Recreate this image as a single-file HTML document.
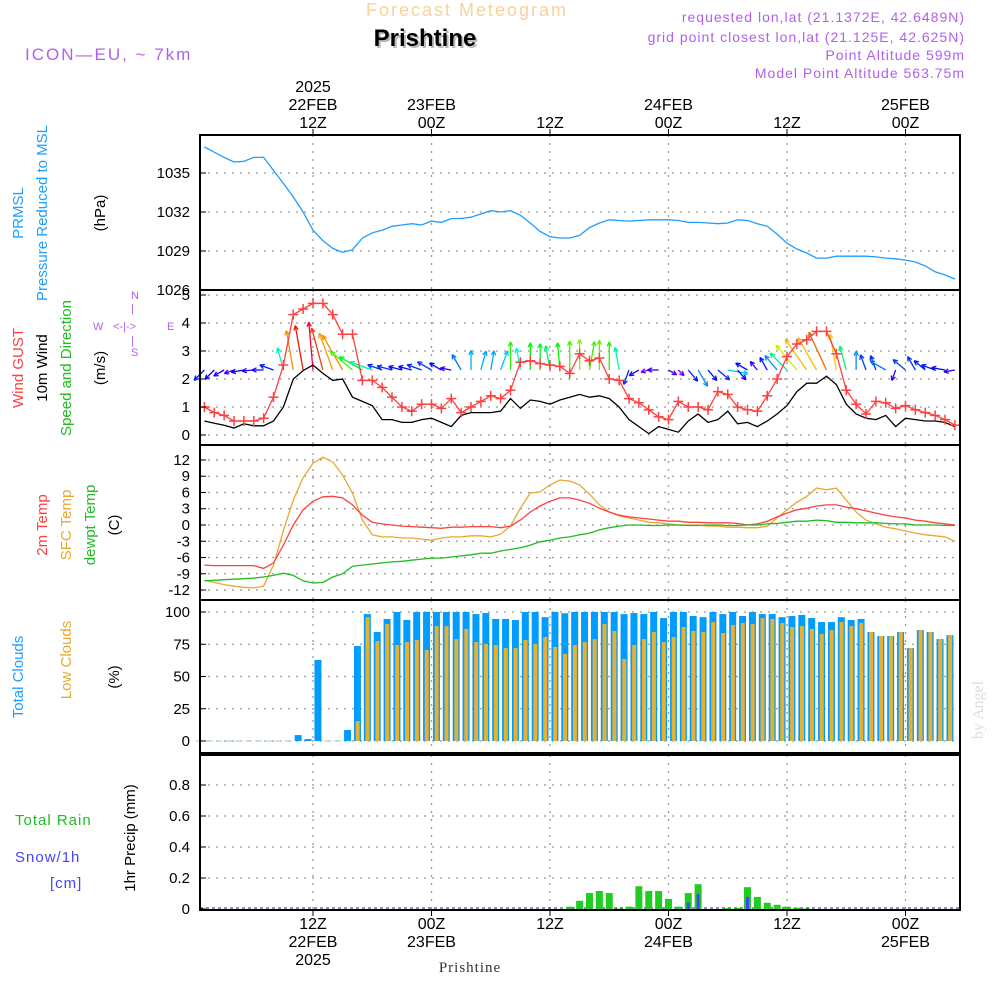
<!DOCTYPE html>
<html><head><meta charset="utf-8">
<style>
html,body{margin:0;padding:0;background:#fff;}
svg{display:block;font-family:"Liberation Sans",sans-serif;}
</style></head>
<body>
<svg id="chart" width="1000" height="1000" viewBox="0 0 1000 1000" xmlns="http://www.w3.org/2000/svg">
  <text x="467" y="16" text-anchor="middle" font-size="18" fill="#f6d29e" letter-spacing="2">Forecast Meteogram</text>
  <text x="427" y="48" text-anchor="middle" font-size="24" font-weight="bold" fill="#bbb">Prishtine</text>
  <text x="425" y="46" text-anchor="middle" font-size="24" font-weight="bold" fill="#000">Prishtine</text>
  <g font-size="14" fill="#b060ee" text-anchor="end" letter-spacing="1">
    <text x="965" y="22">requested lon,lat (21.1372E, 42.6489N)</text>
    <text x="965" y="42">grid point closest lon,lat (21.125E, 42.625N)</text>
    <text x="965" y="60">Point Altitude 599m</text>
    <text x="965" y="78">Model Point Altitude 563.75m</text>
  </g>
  <text x="25" y="60" font-size="17" fill="#b060ee" letter-spacing="2">ICON—EU, ~ 7km</text>

  <g id="grid"></g>
  <g id="marks"></g>
  <g id="frames"></g>
  <g id="ticks" font-size="15" fill="#000"></g>

  <!-- left labels -->
  <g font-size="15">
    <text transform="translate(23,213) rotate(-90)" text-anchor="middle" fill="#1e9eff">PRMSL</text>
    <text transform="translate(47,213) rotate(-90)" text-anchor="middle" fill="#1e9eff">Pressure Reduced to MSL</text>
    <text transform="translate(105,213) rotate(-90)" text-anchor="middle" fill="#000">(hPa)</text>
    <text transform="translate(23,368) rotate(-90)" text-anchor="middle" fill="#ff4040">Wind GUST</text>
    <text transform="translate(47,368) rotate(-90)" text-anchor="middle" fill="#000">10m Wind</text>
    <text transform="translate(71,368) rotate(-90)" text-anchor="middle" fill="#22bb22">Speed and Direction</text>
    <text transform="translate(105,368) rotate(-90)" text-anchor="middle" fill="#000">(m/s)</text>
    <text transform="translate(47,525) rotate(-90)" text-anchor="middle" fill="#ff4040">2m Temp</text>
    <text transform="translate(71,525) rotate(-90)" text-anchor="middle" fill="#e8a830">SFC Temp</text>
    <text transform="translate(95,525) rotate(-90)" text-anchor="middle" fill="#22bb22">dewpt Temp</text>
    <text transform="translate(119,525) rotate(-90)" text-anchor="middle" fill="#000">(C)</text>
    <text transform="translate(23,677) rotate(-90)" text-anchor="middle" fill="#1e9eff">Total Clouds</text>
    <text transform="translate(71,660) rotate(-90)" text-anchor="middle" fill="#e8a830">Low Clouds</text>
    <text transform="translate(119,677) rotate(-90)" text-anchor="middle" fill="#000">(%)</text>
    <text x="15" y="825" fill="#22bb22" letter-spacing="1">Total  Rain</text>
    <text x="15" y="862" fill="#4444ff" letter-spacing="1">Snow/1h</text>
    <text x="50" y="888" fill="#4444ff" letter-spacing="1">[cm]</text>
    <text transform="translate(135,838) rotate(-90)" text-anchor="middle" fill="#000">1hr Precip (mm)</text>
  </g>
  <g font-size="11" fill="#b060ee">
    <text x="131" y="299">N</text>
    <text x="131" y="312">|</text>
    <text x="93" y="330">W</text>
    <text x="113" y="330">&lt;-|-&gt;</text>
    <text x="167" y="330">E</text>
    <text x="131" y="344">|</text>
    <text x="131" y="356">S</text>
  </g>
  <text transform="translate(983,710) rotate(-90)" font-family="Liberation Serif, serif" font-size="16" fill="#ddd" text-anchor="middle">by Angel</text>
  <text x="470" y="972" text-anchor="middle" font-family="Liberation Serif, serif" font-size="15" fill="#333" letter-spacing="1">Prishtine</text>
</svg>
<script>
const pressure=[1037.0,1036.6,1036.2,1035.85,1035.9,1036.2,1036.2,1035.2,1034.2,1033.15,
1032,1030.6,1029.8,1029.2,1028.9,1029.1,1030,1030.4,1030.6,1030.9,
1031,1031.1,1031,1031.3,1031.2,1031.5,1031.5,1031.6,1031.85,1032.1,
1032,1032.1,1031.75,1031.15,1030.5,1030.1,1030,1030,1030.2,1030.8,
1031.15,1031.4,1031.35,1031.3,1031.35,1031.4,1031.4,1031.4,1031.35,1031.2,
1031.2,1031.15,1031.1,1031.15,1031.4,1031.35,1031.1,1030.9,1030.3,1029.6,
1029.15,1028.85,1028.45,1028.45,1028.6,1028.6,1028.6,1028.6,1028.55,1028.45,
1028.4,1028.3,1028.15,1027.85,1027.4,1027.15,1026.85];
const gust=[1.0,0.8,0.7,0.5,0.5,0.5,0.6,1.35,2.5,4.3,
4.5,4.7,4.7,4.3,3.6,3.6,1.95,1.95,1.7,1.35,
1.0,0.85,1.1,1.1,0.95,1.3,0.8,1.0,1.2,1.4,
1.3,1.6,2.6,2.65,2.55,2.5,2.45,2.2,2.9,2.65,
2.75,2.0,1.95,1.3,1.15,0.9,0.65,0.55,1.2,1.0,
1.0,0.9,1.55,1.45,1.0,0.9,0.85,1.4,2.0,2.8,
3.25,3.4,3.7,3.7,2.9,1.6,1.1,0.75,1.2,1.15,
0.95,1.05,0.9,0.8,0.7,0.55,0.35];
const windSpeed=[0.5,0.42,0.35,0.25,0.4,0.33,0.33,0.5,1.0,2.0,
2.3,2.5,2.2,1.95,2.0,1.35,1.2,1.05,0.55,0.55,
0.45,0.45,0.55,0.6,0.45,0.3,0.7,0.8,0.8,0.8,
0.85,1.3,0.95,1.25,1.2,1.1,1.25,1.35,1.45,1.35,
1.4,1.3,1.0,0.55,0.3,0.05,0.3,0.2,0.1,0.5,
0.75,0.45,0.55,0.85,0.4,0.45,0.3,0.5,0.75,1.05,
1.55,1.85,1.85,2.1,1.8,1.1,0.75,0.6,0.55,0.7,
0.3,0.6,0.55,0.5,0.5,0.45,0.3];
const windDir=[225,225,240,250,260,265,270,290,345,350,
350,355,345,340,330,310,300,290,290,285,
285,285,290,300,300,280,330,0,15,10,
20,0,350,0,0,350,355,0,0,10,
0,0,350,200,240,255,270,120,135,140,
150,140,130,100,140,300,320,330,320,315,
320,325,330,335,350,345,0,340,340,300,
200,310,330,310,290,280,260];
const temp2m=[-7.4,-7.5,-7.5,-7.5,-7.5,-7.5,-8,-7,-3.7,0,
2.8,4.4,5.2,5.3,5.0,3.7,1.8,0.5,0.2,0,
-0.2,-0.3,-0.4,-0.5,-0.6,-0.4,-0.4,-0.3,-0.3,-0.3,
-0.5,-0.2,0.9,2.4,3.5,4.4,5.0,5.0,4.6,4.0,
3.1,2.4,1.8,1.5,1.3,1.1,0.9,0.7,0.7,0.5,
0.5,0.4,0.4,0.4,0.3,0,0.2,0.7,1.5,2.2,
2.8,3.1,3.5,3.7,3.7,3.3,3.0,2.6,2.2,1.8,
1.5,1.3,0.9,0.7,0.4,0.2,0];
const tempSfc=[-10.2,-10.6,-11,-11.3,-11.5,-11.6,-11.3,-7.4,-1,4.6,
8.7,11.4,12.5,11.6,9.2,5.9,0.9,-1.8,-2.2,-2.2,
-2.4,-2.4,-2.6,-2.8,-2.4,-2.2,-2.2,-2,-2,-2.2,
-1.7,-0.2,3.1,5.9,6.1,7.4,8.3,8.1,7.4,5.7,
3.7,2.4,1.7,1.3,0.9,0.5,0.4,0.2,0,0,
0,-0.2,-0.2,-0.4,-0.4,-0.5,-0.5,-0.2,1.3,2.8,
4.2,5.3,6.8,6.5,6.8,4.6,2.4,0.9,0.2,-0.4,
-0.7,-1.1,-1.5,-1.8,-2.0,-2.2,-3.0];
const dewpoint=[-10.3,-10.2,-10.1,-10,-9.9,-9.8,-9.6,-9.3,-8.9,-9.3,
-10.3,-10.7,-10.6,-9.6,-9.0,-7.6,-7.4,-7.2,-7.0,-6.8,
-6.7,-6.5,-6.3,-6.1,-6.1,-5.9,-5.7,-5.5,-5.2,-5.2,
-4.8,-4.5,-4.2,-3.7,-3.1,-2.8,-2.4,-2.2,-1.8,-1.5,
-0.9,-0.5,-0.2,0,0,-0.1,-0.1,0,0,-0.1,
-0.1,0,0,-0.1,-0.1,0,0,0.2,0.3,0.5,
0.7,0.7,0.9,0.8,0.5,0.5,0.4,0.4,0.4,0.3,
0.2,0.2,0,0,0,-0.1,-0.1];
const cloudTotal=[0,0,0,0,0,0,0,0,0,0,
4.6,1.5,62.8,0,0,8.5,73.6,98.4,84.5,94.6,
100,93.8,100,100,100,100,100,100,98.4,99.2,
94.6,94.6,93.8,100,100,96,100,99,100,100,
100,100,100,98.4,99.2,98.4,100,95.3,100,100,
96.9,96,100,98.4,100,96.9,100,98.4,98.4,96,
96.9,97.7,95.3,92.2,92.2,96,93.8,94.6,84.5,81.4,
81.4,84.5,72,86,84.5,79,82];
const cloudLow=[0,0,0,0,0,0,0,0,0,0,
0,0,0,0,0,0,15.5,96,77.5,90.7,
74.4,76.7,78.3,70.5,89,89,79,86.8,76.7,75.2,
74.4,72,72,78.3,75.2,80.6,72.9,67.4,74.4,76.7,
79,90.7,85.3,63.6,74.4,79,84.5,76.7,80.6,88.4,
85.3,84.5,92.2,83.7,90,91.5,90.7,95.3,94.6,91.5,
88.4,89.1,86.8,83,86,92.2,89.1,91.5,84.5,81.4,
81.4,84.5,72,86,84.5,79,82];
const precipHours=[37,38,39,40,41,42,43,44,45,46,47,48,49,50,53,54,55,56,57,58,59,60,61];
const precipValues=[0.015,0.053,0.103,0.116,0.103,0.003,0.015,0.147,0.116,0.116,0.065,0.015,0.103,0.16,0.006,0.006,0.141,0.078,0.04,0.027,0.015,0.008,0.004];
const snowHours=[49,50,55];
const snowValues=[0.042,0.097,0.078];
const pressureTicks=[1035,1032,1029,1026];
const windTicks=[0,1,2,3,4,5];
const tempTicks=[12,9,6,3,0,-3,-6,-9,-12];
const cloudTicks=[100,75,50,25,0];
const precipTicks=[0.8,0.6,0.4,0.2,0];
const gridHours=[12,24,36,48,60,72];
const topLabels=[["2025","22FEB","12Z"],["","23FEB","00Z"],["","","12Z"],["","24FEB","00Z"],["","","12Z"],["","25FEB","00Z"]];
const bottomLabels=[["12Z","22FEB","2025"],["00Z","23FEB",""],["12Z","",""],["00Z","24FEB",""],["12Z","",""],["00Z","25FEB",""]];

const NS="http://www.w3.org/2000/svg";
const X0=200,X1=960;
const xh=h=>194.5+9.875*h;
const yP=v=>173+(1035-v)*13;
const yW=v=>435-v*28;
const yT=v=>525-v*5.42;
const yC=v=>741-v*1.29;
const yR=v=>909-v*155;
const panels=[[135,290,yP,pressureTicks,v=>v],[290,445,yW,windTicks,v=>v],[445,600,yT,tempTicks,v=>v],[600,753,yC,cloudTicks,v=>v],[755,910,yR,precipTicks,v=>v===0?"0":v.toFixed(1)]];
function mk(tag,attrs,parent){const e=document.createElementNS(NS,tag);for(const k in attrs)e.setAttribute(k,attrs[k]);parent.appendChild(e);return e;}
const grid=document.getElementById('grid'),marks=document.getElementById('marks'),frames=document.getElementById('frames'),ticks=document.getElementById('ticks');

panels.forEach((p,pi)=>{
  const [top,bot,yf,tk,fmt]=p;
  gridHours.forEach(h=>{const l=mk('line',{x1:xh(h),x2:xh(h),y1:top,y2:bot,stroke:'#999','stroke-dasharray':'2,6','stroke-width':1.3},grid);
    
    });
  tk.forEach(v=>{const y=yf(v);
    if(y>top+2&&y<bot-2){const l=mk('line',{x1:X0,x2:X1,y1:y,y2:y,stroke:'#999','stroke-dasharray':'2,6','stroke-width':1.3},grid);
      
      }
    if(y>=top-2&&y<=bot+2){
      const t=mk('text',{x:190,y:y+5,'text-anchor':'end'},ticks);t.textContent=fmt(v);
      
      
      mk('line',{x1:X0,x2:X0+6,y1:y,y2:y,stroke:'#000'},ticks);}
  });
  const r=mk('rect',{x:X0,y:top,width:X1-X0,height:bot-top,fill:'none',stroke:'#000','stroke-width':2},frames);
  
  
});
// top / bottom time labels
gridHours.forEach((h,i)=>{
  topLabels[i].forEach((s,j)=>{if(!s)return;const t=mk('text',{x:xh(h),y:92+j*18,'text-anchor':'middle','font-size':16},ticks);t.textContent=s;
    
    });
  bottomLabels[i].forEach((s,j)=>{if(!s)return;const t=mk('text',{x:xh(h),y:929+j*18,'text-anchor':'middle','font-size':16},ticks);t.textContent=s;
    
    });
  mk('line',{x1:xh(h),x2:xh(h),y1:129,y2:135,stroke:'#000'},ticks);
  mk('line',{x1:xh(h),x2:xh(h),y1:910,y2:916,stroke:'#000'},ticks);
});

// clip
const defs=mk('defs',{},document.getElementById('chart'));
panels.forEach((p,i)=>{const c=mk('clipPath',{id:'clip'+i},defs);mk('rect',{x:X0+1,y:p[0]+1,width:X1-X0-2,height:p[1]-p[0]-2},c);});

function line(arr,yf,color,clip,name){
  const pts=arr.map((v,i)=>xh(i+1).toFixed(1)+','+yf(v).toFixed(1)).join(' ');
  const l=mk('polyline',{points:pts,fill:'none',stroke:color,'stroke-width':1.3,'clip-path':'url(#clip'+clip+')'},marks);
  
  
}
line(pressure,yP,'#1e9eff',0,'pressure-line');

// wind arrows
function hueFor(s){const st=[[0,275],[0.6,225],[0.9,185],[1.25,120],[1.6,65],[2.0,35],[2.6,-25]];
  for(let i=1;i<st.length;i++){if(s<=st[i][0]){const a=st[i-1],b=st[i];return a[1]+(b[1]-a[1])*(s-a[0])/(b[0]-a[0]);}}return -25;}
windSpeed.forEach((s,i)=>{
  const x=xh(i+1),y=370,L=Math.max(8,Math.min(48,17*s+6)),a=windDir[i]*Math.PI/180;
  const ex=x+L*Math.sin(a),ey=y-L*Math.cos(a);
  const h=(hueFor(s)+360)%360,col='hsl('+h+',100%,48%)';
  const g=mk('g',{stroke:col,'stroke-width':1.3,fill:'none'},marks);
  
  
  mk('line',{x1:x,y1:y,x2:ex,y2:ey},g);
  [0.45,-0.45].forEach(d=>{const b=a+Math.PI+d;mk('line',{x1:ex,y1:ey,x2:ex+5*Math.sin(b),y2:ey-5*Math.cos(b)},g);});
});
line(windSpeed,yW,'#000',1,'wind-speed-line');
line(gust,yW,'#ff4040',1,'gust-line');
gust.forEach((v,i)=>{const x=xh(i+1),y=yW(v);
  const g=mk('g',{stroke:'#ff4040','stroke-width':1.5},marks);
  
  
  mk('line',{x1:x-5,x2:x+5,y1:y,y2:y},g);mk('line',{x1:x,x2:x,y1:y-5,y2:y+5},g);});

line(tempSfc,yT,'#e8a830',2,'sfc-temp-line');
line(temp2m,yT,'#ff4040',2,'temp-2m-line');
line(dewpoint,yT,'#22bb22',2,'dewpoint-line');

// clouds
cloudTotal.forEach((v,i)=>{const cx=xh(i+0.5);
  if(v<=0){const z=mk('line',{x1:cx-3.5,x2:cx+3.5,y1:741,y2:741,stroke:'#9cc'},marks);
    
    return;}
  const r=mk('rect',{x:cx-3.5,y:yC(v),width:7,height:741-yC(v),fill:'#009dff','clip-path':'url(#clip3)'},marks);
  
  });
cloudLow.forEach((v,i)=>{if(v<=0)return;const cx=xh(i+0.5);
  const r=mk('rect',{x:cx-1.8,y:yC(v),width:4,height:741-yC(v),fill:'#e8b030','clip-path':'url(#clip3)'},marks);
  
  });

// precip
mk('line',{x1:X0,x2:X1,y1:908,y2:908,stroke:'#226',"stroke-dasharray":"3,3"},marks);
precipHours.forEach((h,i)=>{const cx=xh(h+1),v=precipValues[i];
  const r=mk('rect',{x:cx-3.5,y:yR(v),width:7,height:909-yR(v),fill:'#22cc22'},marks);
  
  });
snowHours.forEach((h,i)=>{const cx=xh(h+1),v=snowValues[i];
  const r=mk('rect',{x:cx-1.5,y:yR(v),width:3,height:909-yR(v),fill:'#4444ff'},marks);
  
  });
</script>
</body></html>
